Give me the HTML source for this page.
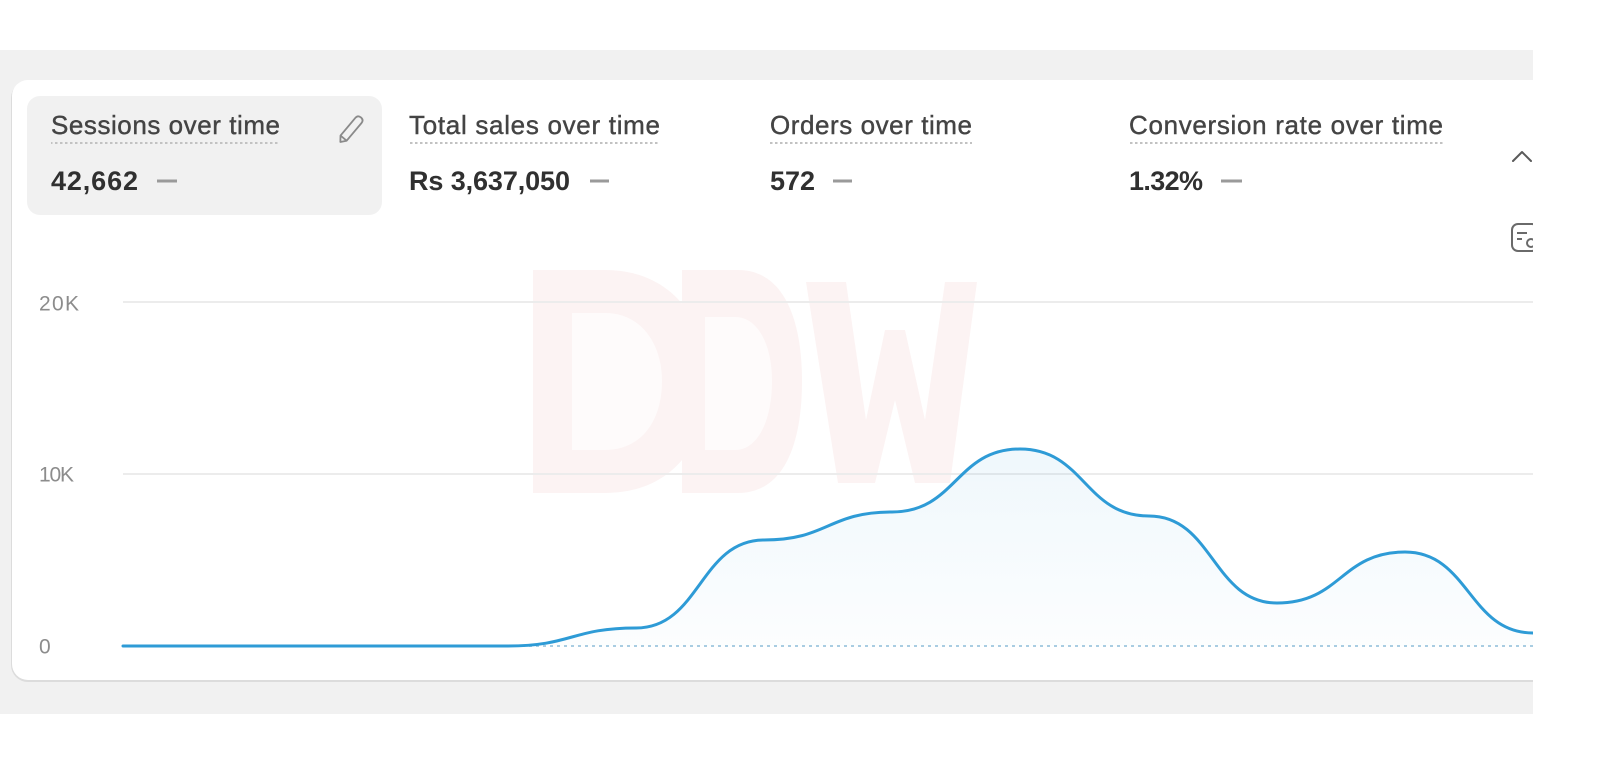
<!DOCTYPE html>
<html>
<head>
<meta charset="utf-8">
<style>
html,body{margin:0;padding:0;background:#ffffff;}
svg{display:block;}
text{font-family:"Liberation Sans",Arial,sans-serif;}
</style>
</head>
<body>
<svg width="1600" height="764" viewBox="0 0 1600 764" xmlns="http://www.w3.org/2000/svg">
  <defs>
    <linearGradient id="fillg" x1="0" y1="449" x2="0" y2="646" gradientUnits="userSpaceOnUse">
      <stop offset="0" stop-color="#3a9fd8" stop-opacity="0.08"/>
      <stop offset="1" stop-color="#3a9fd8" stop-opacity="0.015"/>
    </linearGradient>
    <pattern id="dots" x="0" y="0" width="5" height="2" patternUnits="userSpaceOnUse">
      <rect x="0" y="0" width="2.5" height="2" fill="#c2c2c2"/>
    </pattern>
  </defs>

  <!-- page background -->
  <rect x="0" y="0" width="1600" height="764" fill="#ffffff"/>
  <rect x="0" y="50" width="1533" height="664" fill="#f1f1f1"/>

  <!-- card -->
  <rect x="11" y="81" width="1620" height="601" rx="17" fill="#dcdcdc"/>
  <rect x="12" y="80" width="1620" height="600" rx="16" fill="#ffffff"/>

  <!-- selected tile -->
  <rect x="27" y="96" width="355" height="119" rx="13" fill="#f1f1f1"/>

  <!-- titles -->
  <g fill="#444444" stroke="#444444" stroke-width="0.4" font-size="26">
    <text x="51" y="134" textLength="229" lengthAdjust="spacing">Sessions over time</text>
    <text x="409" y="134" textLength="251" lengthAdjust="spacing">Total sales over time</text>
    <text x="770" y="134" textLength="202" lengthAdjust="spacing">Orders over time</text>
    <text x="1129" y="134" textLength="314" lengthAdjust="spacing">Conversion rate over time</text>
  </g>
  <!-- dotted underlines -->
  <rect x="51" y="142" width="229" height="2" fill="url(#dots)"/>
  <rect x="409" y="142" width="251" height="2" fill="url(#dots)"/>
  <rect x="770" y="142" width="202" height="2" fill="url(#dots)"/>
  <rect x="1129" y="142" width="314" height="2" fill="url(#dots)"/>

  <!-- values -->
  <g fill="#303030" font-weight="bold" font-size="27">
    <text x="51" y="190" textLength="87" lengthAdjust="spacing">42,662</text>
    <text x="409" y="190" textLength="161" lengthAdjust="spacing">Rs 3,637,050</text>
    <text x="770" y="190" textLength="45" lengthAdjust="spacing">572</text>
    <text x="1129" y="190" textLength="74" lengthAdjust="spacing">1.32%</text>
  </g>
  <!-- dashes -->
  <g fill="#9a9a9a">
    <rect x="157" y="179.5" width="20" height="3"/>
    <rect x="590" y="179.5" width="19" height="3"/>
    <rect x="833" y="179.5" width="19" height="3"/>
    <rect x="1221" y="179.5" width="21" height="3"/>
  </g>

  <!-- pencil icon -->
  <g transform="translate(350,130.5) rotate(-50)" fill="none" stroke="#8a8a8a" stroke-width="1.8" stroke-linejoin="round">
    <path d="M-15,0 L-10,-4 L13,-4 Q17,-4 17,0 Q17,4 13,4 L-10,4 Z"/>
    <line x1="-10" y1="-4" x2="-10" y2="4"/>
  </g>

  <!-- chevron -->
  <polyline points="1513,161 1522,152 1531,161" fill="none" stroke="#5a5a5a" stroke-width="2" stroke-linecap="round" stroke-linejoin="round"/>

  <!-- icon (cut off) -->
  <g fill="none" stroke="#6a6a6a" stroke-width="2">
    <rect x="1512" y="224" width="26" height="27" rx="6"/>
    <line x1="1517" y1="233" x2="1527" y2="233"/>
    <line x1="1517" y1="239" x2="1522" y2="239"/>
    <circle cx="1531" cy="243" r="4"/>
  </g>

  <!-- watermark -->
  <g fill="#fcf3f3">
    <path d="M533,270 L605,270 C675,270 708,325 708,381 C708,440 675,493 605,493 L533,493 Z"/>
    <path d="M682,270 L738,270 C785,270 802,322 802,381 C802,442 785,493 738,493 L682,493 Z"/>
    <polygon points="806,282 846,282 866,420 885,330 905,330 925,420 945,282 977,282 950,483 915,483 895,400 875,483 838,483"/>
  </g>
  <g fill="#fefbfb">
    <path d="M572,313 L605,313 C642,313 662,345 662,381 C662,420 642,450 605,450 L572,450 Z"/>
    <path d="M705,317 L735,317 C758,317 772,345 772,381 C772,420 758,450 735,450 L705,450 Z"/>
  </g>

  <!-- gridlines -->
  <line x1="123" y1="302" x2="1533" y2="302" stroke="#ececec" stroke-width="2"/>
  <line x1="123" y1="474" x2="1533" y2="474" stroke="#ececec" stroke-width="2"/>

  <!-- axis labels -->
  <g fill="#8c8c8c" font-size="21">
    <text x="39" y="310.5" textLength="40" lengthAdjust="spacing">20K</text>
    <text x="39" y="481.5" textLength="35" lengthAdjust="spacing">10K</text>
    <text x="39" y="653.5">0</text>
  </g>

  <!-- area fill -->
  <path fill="url(#fillg)" d="M123,646 C187,646 187,646 251,646 C315,646 315,646 379,646 C443.5,646 443.5,646 508,646 C572,646 572,628 636,628 C700,628 700,540 764,540 C828,540 828,512 892,512 C956,512 956,449 1020,449 C1084.5,449 1084.5,516 1149,516 C1213,516 1213,603 1277,603 C1341,603 1341,552 1405,552 C1469,552 1469,633 1533,633 L1533,646 L123,646 Z"/>

  <!-- dotted zero baseline -->
  <line x1="123" y1="646" x2="1533" y2="646" stroke="#a9cde2" stroke-width="2" stroke-dasharray="3 4"/>

  <!-- series line -->
  <path fill="none" stroke="#2e9bd6" stroke-width="3" stroke-linecap="round" d="M123,646 C187,646 187,646 251,646 C315,646 315,646 379,646 C443.5,646 443.5,646 508,646 C572,646 572,628 636,628 C700,628 700,540 764,540 C828,540 828,512 892,512 C956,512 956,449 1020,449 C1084.5,449 1084.5,516 1149,516 C1213,516 1213,603 1277,603 C1341,603 1341,552 1405,552 C1469,552 1469,633 1533,633"/>

  <!-- right cut-off -->
  <rect x="1533" y="0" width="67" height="764" fill="#ffffff"/>
</svg>
</body>
</html>
